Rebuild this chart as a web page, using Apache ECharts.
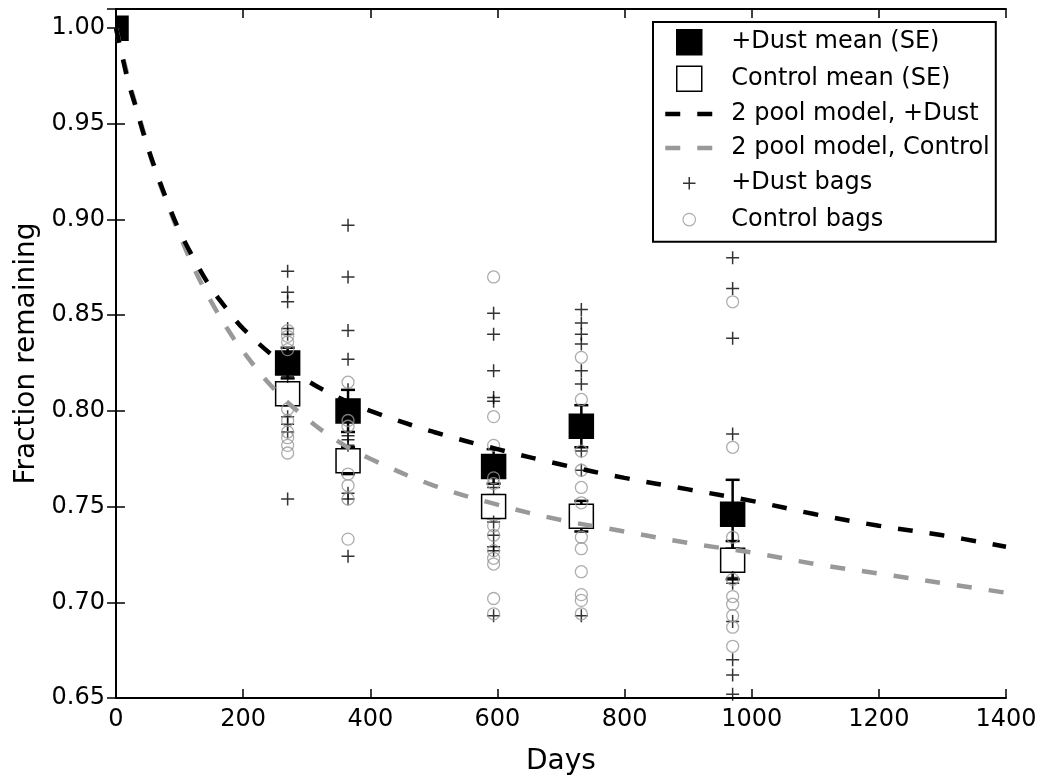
<!DOCTYPE html>
<html>
<head>
<meta charset="utf-8">
<title>Fraction remaining</title>
<script src="https://cdn.jsdelivr.net/npm/echarts@6/dist/echarts.min.js"></script>
<style>
  html, body { margin: 0; padding: 0; background: #fff; }
  #chart { width: 1044px; height: 777px; }
</style>
</head>
<body>
<div id="chart"></div>
<script>
// days of the litter bag collections
const bagDays = [270, 365, 594, 732, 970]

// individual bags, one list per collection day
const dustBags = [
  [0.873, 0.862, 0.857, 0.843, 0.840, 0.818, 0.797, 0.793, 0.789, 0.754],
  [0.897, 0.870, 0.842, 0.827, 0.811, 0.787, 0.785, 0.782, 0.757, 0.754, 0.724],
  [0.851, 0.840, 0.821, 0.807, 0.805, 0.760, 0.742, 0.735, 0.729, 0.727, 0.693],
  [0.853, 0.846, 0.840, 0.835, 0.821, 0.814, 0.779, 0.769, 0.693],
  [0.880, 0.864, 0.838, 0.788, 0.713, 0.710, 0.690, 0.670, 0.662, 0.652]
]
const controlBags = [
  [0.842, 0.839, 0.836, 0.832, 0.801, 0.795, 0.789, 0.786, 0.782, 0.778],
  [0.815, 0.795, 0.792, 0.767, 0.761, 0.754, 0.733],
  [0.870, 0.797, 0.782, 0.765, 0.762, 0.740, 0.735, 0.727, 0.723, 0.720, 0.702, 0.694],
  [0.828, 0.806, 0.779, 0.769, 0.760, 0.752, 0.734, 0.728, 0.716, 0.704, 0.701, 0.694],
  [0.857, 0.781, 0.734, 0.712, 0.703, 0.699, 0.693, 0.687, 0.677]
]

// means with standard errors
const dustMeanDays = [0, 270, 365, 594, 732, 970]
const dustMean = [1.000, 0.825, 0.800, 0.771, 0.792, 0.746]
const dustSE = [0, 0.008, 0.011, 0.009, 0.011, 0.018]
const controlMeanDays = [270, 365, 594, 732, 970]
const controlMean = [0.809, 0.774, 0.750, 0.745, 0.722]
const controlSE = [0.006, 0.007, 0.006, 0.008, 0.010]

// 2 pool model curves
const curveDays = [0, 10, 20, 30, 45, 60, 80, 100, 125, 150, 175, 200, 250, 300, 350, 400, 500, 600, 700, 800, 900, 1000, 1100, 1200, 1300, 1400]
const dustModel = [1.000, 0.985, 0.971, 0.960, 0.943, 0.928, 0.910, 0.894, 0.878, 0.864, 0.853, 0.843, 0.828, 0.816, 0.807, 0.800, 0.789, 0.780, 0.772, 0.765, 0.759, 0.753, 0.746, 0.740, 0.735, 0.729]
const controlModel = [1.000, 0.986, 0.973, 0.961, 0.944, 0.927, 0.909, 0.892, 0.873, 0.857, 0.843, 0.831, 0.811, 0.796, 0.784, 0.775, 0.761, 0.751, 0.743, 0.737, 0.731, 0.726, 0.720, 0.715, 0.710, 0.705]

const FONT = 'DejaVu Sans'
const PLUS = 'path://M0,6H12M6,0V12'
const PLUS_ICON = 'path://M0,0M24,24M6,12H18M12,6V18'
const CIRCLE_ICON = 'path://M0,0M24,24M18,12A6,6,0,1,1,6,12A6,6,0,1,1,18,12'
const SQUARE_ICON = 'path://M0,0H24V24H0Z'
const DASH = [15, 17]

const toPairs = (xs, ys) => xs.map((x, i) => [x, ys[i]])
const bagPoints = groups => {
  const out = []
  groups.forEach((vals, i) => vals.forEach(v => out.push([bagDays[i], v])))
  return out
}

// square marker with error bar, clipped to the plot area like matplotlib does
function meanMarker(fill) {
  return (params, api) => {
    const day = api.value(0)
    const mean = api.value(1)
    const se = api.value(2)
    const c = api.coord([day, mean])
    const hi = api.coord([day, mean + se])
    const lo = api.coord([day, mean - se])
    const cs = params.coordSys
    const half = 12
    const square = echarts.graphic.clipRectByRect(
      { x: c[0] - half, y: c[1] - half, width: half * 2, height: half * 2 },
      { x: cs.x, y: cs.y, width: cs.width, height: cs.height }
    )
    const children = []
    if (se > 0) {
      const bar = { stroke: '#000', lineWidth: 2.5 }
      children.push({ type: 'line', shape: { x1: c[0], y1: hi[1], x2: c[0], y2: lo[1] }, style: bar })
      children.push({ type: 'line', shape: { x1: c[0] - 7, y1: hi[1], x2: c[0] + 7, y2: hi[1] }, style: bar })
      children.push({ type: 'line', shape: { x1: c[0] - 7, y1: lo[1], x2: c[0] + 7, y2: lo[1] }, style: bar })
    }
    if (square) {
      children.push({ type: 'rect', shape: square, style: { fill: fill, stroke: '#000', lineWidth: 1.5 } })
    }
    return { type: 'group', children: children }
  }
}

const axisLine = { lineStyle: { color: '#000', width: 2 } }
const axisTick = { inside: true, length: 9, lineStyle: { color: '#000', width: 1.5 } }
const tickLabel = { color: '#000', fontSize: 24, fontFamily: FONT }
const hidden = { show: false }

const option = {
  animation: false,
  backgroundColor: '#fff',
  grid: { left: 116, right: 38, top: 9, bottom: 79, containLabel: false, outerBoundsMode: 'none' },
  legend: {
    orient: 'vertical',
    left: 653,
    top: 22,
    padding: [7, 6, 9, 10],
    borderColor: '#000',
    borderWidth: 2,
    borderRadius: 0,
    backgroundColor: '#fff',
    itemGap: 10,
    itemWidth: 48,
    itemHeight: 25,
    selectedMode: false,
    textStyle: { color: '#000', fontSize: 24, fontFamily: FONT, padding: [0, 0, 0, 13] },
    data: [
      { name: '+Dust mean (SE)', icon: SQUARE_ICON, itemStyle: { color: '#000', borderColor: '#000', borderWidth: 1.5 } },
      { name: 'Control mean (SE)', icon: SQUARE_ICON, itemStyle: { color: '#fff', borderColor: '#000', borderWidth: 1.5 } },
      {
        name: '2 pool model, +Dust',
        itemStyle: { color: 'rgba(0,0,0,0)', borderColor: 'rgba(0,0,0,0)', opacity: 0 },
        lineStyle: { color: '#000', width: 4.5, type: DASH }
      },
      {
        name: '2 pool model, Control',
        itemStyle: { color: 'rgba(0,0,0,0)', borderColor: 'rgba(0,0,0,0)', opacity: 0 },
        lineStyle: { color: '#999', width: 4.5, type: DASH }
      },
      { name: '+Dust bags', icon: PLUS_ICON, itemStyle: { color: 'rgba(0,0,0,0)', borderColor: '#000', borderWidth: 1.5 } },
      { name: 'Control bags', icon: CIRCLE_ICON, itemStyle: { color: 'rgba(0,0,0,0)', borderColor: '#999', borderWidth: 1.2 } }
    ]
  },
  xAxis: [
    {
      type: 'value',
      min: 0,
      max: 1400,
      interval: 200,
      name: 'Days',
      nameLocation: 'middle',
      nameGap: 50,
      nameTextStyle: { color: '#000', fontSize: 28, fontFamily: FONT },
      axisLine: axisLine,
      axisTick: axisTick,
      axisLabel: Object.assign({ margin: 10, formatter: v => String(v) }, tickLabel),
      splitLine: hidden
    },
    {
      type: 'value',
      position: 'top',
      min: 0,
      max: 1400,
      interval: 200,
      axisLine: axisLine,
      axisTick: axisTick,
      axisLabel: hidden,
      splitLine: hidden
    }
  ],
  yAxis: [
    {
      type: 'value',
      min: 0.65,
      max: 1.01,
      interval: 0.05,
      name: 'Fraction remaining',
      nameLocation: 'middle',
      nameGap: 63,
      nameTextStyle: { color: '#000', fontSize: 28, fontFamily: FONT },
      axisLine: Object.assign({ onZero: false }, axisLine),
      axisTick: axisTick,
      axisLabel: Object.assign({
        margin: 11,
        formatter: v => (Math.abs(v * 20 - Math.round(v * 20)) < 1e-6 ? v.toFixed(2) : '')
      }, tickLabel),
      splitLine: hidden
    },
    {
      type: 'value',
      position: 'right',
      min: 0.65,
      max: 1.01,
      interval: 0.05,
      axisLine: axisLine,
      axisTick: axisTick,
      axisLabel: hidden,
      splitLine: hidden
    }
  ],
  series: [
    {
      name: '2 pool model, Control',
      type: 'line',
      symbol: 'none',
      smooth: 0.4,
      lineStyle: { color: '#999', width: 4.5, type: DASH },
      itemStyle: { color: '#999' },
      data: toPairs(curveDays, controlModel)
    },
    {
      name: '2 pool model, +Dust',
      type: 'line',
      symbol: 'none',
      smooth: 0.4,
      lineStyle: { color: '#000', width: 4.5, type: DASH },
      itemStyle: { color: '#000' },
      data: toPairs(curveDays, dustModel)
    },
    {
      name: '+Dust mean (SE)',
      type: 'custom',
      renderItem: meanMarker('#000'),
      itemStyle: { color: '#000' },
      encode: { x: 0, y: 1 },
      data: dustMeanDays.map((d, i) => [d, dustMean[i], dustSE[i]])
    },
    {
      name: 'Control mean (SE)',
      type: 'custom',
      renderItem: meanMarker('#fff'),
      itemStyle: { color: '#fff', borderColor: '#000', borderWidth: 1.5 },
      encode: { x: 0, y: 1 },
      data: controlMeanDays.map((d, i) => [d, controlMean[i], controlSE[i]])
    },
    {
      name: '+Dust bags',
      type: 'scatter',
      symbol: PLUS,
      symbolSize: 13,
      itemStyle: { color: 'rgba(0,0,0,0)', borderColor: '#000', borderWidth: 1.5 },
      data: bagPoints(dustBags)
    },
    {
      name: 'Control bags',
      type: 'scatter',
      symbol: 'circle',
      symbolSize: 12,
      itemStyle: { color: 'rgba(0,0,0,0)', borderColor: '#999', borderWidth: 1.3 },
      data: bagPoints(controlBags)
    }
  ]
}

const chart = echarts.init(document.getElementById('chart'))
chart.setOption(option)
</script>
</body>
</html>
